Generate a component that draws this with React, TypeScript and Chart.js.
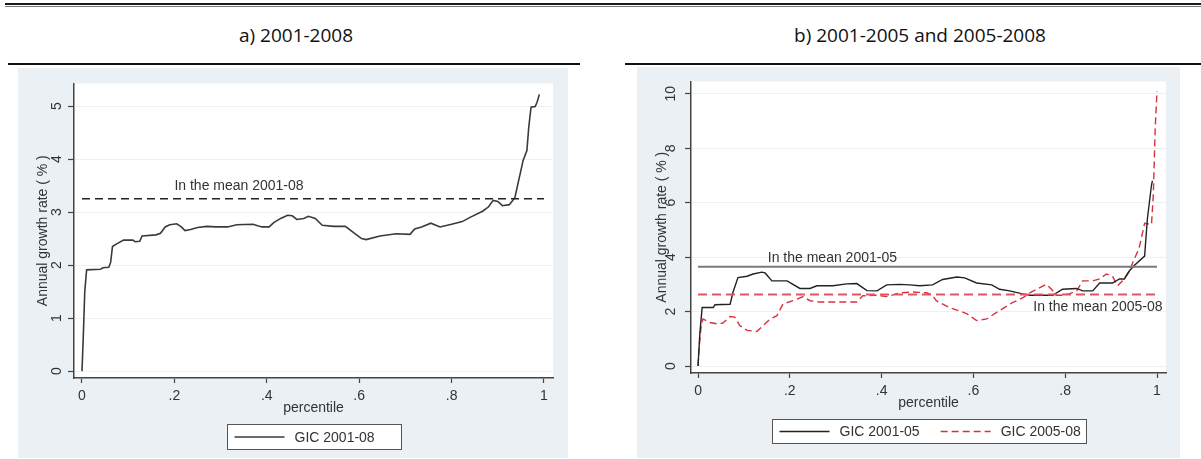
import React, { useEffect, useRef } from 'react';
import { Chart, registerables } from 'chart.js';

Chart.register(...registerables);

// ---------- texts ----------
const panelATitle = 'a) 2001-2008';
const panelBTitle = 'b) 2001-2005 and 2005-2008';
const yAxisTitle = 'Annual growth rate ( % )';
const xAxisTitle = 'percentile';

// ---------- ticks ----------
const xTickValues = [0, 0.2, 0.4, 0.6, 0.8, 1];
const xTickLabels = ['0', '.2', '.4', '.6', '.8', '1'];
const yTicksA = [0, 1, 2, 3, 4, 5];
const yTicksB = [0, 2, 4, 6, 8, 10];

// ---------- panel a) GIC 2001-08 ----------
const gic0108Label = 'GIC 2001-08';
const gic0108X = [0, 0.003, 0.006, 0.01, 0.04, 0.045, 0.058, 0.062, 0.066, 0.075, 0.09, 0.11, 0.115, 0.125, 0.13, 0.16, 0.17, 0.18, 0.19, 0.205, 0.215, 0.223, 0.235, 0.25, 0.27, 0.29, 0.315, 0.335, 0.37, 0.38, 0.39, 0.405, 0.415, 0.43, 0.445, 0.455, 0.465, 0.48, 0.49, 0.505, 0.52, 0.545, 0.57, 0.59, 0.605, 0.615, 0.645, 0.68, 0.71, 0.72, 0.735, 0.755, 0.775, 0.8, 0.823, 0.84, 0.868, 0.88, 0.89, 0.9, 0.91, 0.925, 0.937, 0.944, 0.955, 0.963, 0.967, 0.972, 0.981, 0.985, 0.99];
const gic0108Y = [0, 0.7, 1.5, 1.91, 1.92, 1.95, 1.96, 2.05, 2.35, 2.4, 2.47, 2.47, 2.44, 2.45, 2.55, 2.57, 2.6, 2.72, 2.76, 2.78, 2.72, 2.65, 2.67, 2.71, 2.73, 2.72, 2.72, 2.76, 2.77, 2.74, 2.72, 2.72, 2.8, 2.88, 2.94, 2.93, 2.86, 2.88, 2.92, 2.88, 2.75, 2.73, 2.73, 2.6, 2.5, 2.48, 2.55, 2.59, 2.58, 2.68, 2.72, 2.79, 2.72, 2.77, 2.82, 2.9, 3.02, 3.1, 3.22, 3.2, 3.12, 3.14, 3.27, 3.55, 3.98, 4.16, 4.6, 4.98, 4.99, 5.07, 5.22];
const mean0108 = 3.25;
const mean0108Label = 'In the mean 2001-08';

// ---------- panel b) GIC 2001-05 and 2005-08 ----------
const gic0105Label = 'GIC 2001-05';
const gic0105X = [0, 0.004, 0.009, 0.033, 0.037, 0.07, 0.076, 0.087, 0.107, 0.12, 0.139, 0.146, 0.161, 0.194, 0.222, 0.244, 0.259, 0.294, 0.324, 0.346, 0.368, 0.39, 0.411, 0.44, 0.461, 0.483, 0.511, 0.533, 0.564, 0.581, 0.607, 0.64, 0.657, 0.679, 0.707, 0.723, 0.773, 0.794, 0.825, 0.838, 0.86, 0.875, 0.903, 0.918, 0.929, 0.94, 0.951, 0.973, 0.979, 0.988, 0.99];
const gic0105Y = [0, 1.2, 2.15, 2.15, 2.25, 2.27, 2.7, 3.25, 3.3, 3.38, 3.45, 3.42, 3.13, 3.13, 2.85, 2.85, 2.95, 2.95, 3.02, 3.03, 2.77, 2.76, 2.98, 3.0, 2.98, 2.95, 2.98, 3.18, 3.27, 3.24, 3.05, 2.98, 2.82, 2.76, 2.65, 2.6, 2.6, 2.82, 2.85, 2.76, 2.76, 3.05, 3.05, 3.2, 3.2, 3.5, 3.7, 4.04, 5.4, 6.65, 6.8];
const gic0508Label = 'GIC 2005-08';
const gic0508X = [0, 0.003, 0.007, 0.011, 0.026, 0.041, 0.054, 0.07, 0.08, 0.091, 0.107, 0.128, 0.142, 0.157, 0.172, 0.185, 0.207, 0.229, 0.244, 0.266, 0.294, 0.346, 0.359, 0.39, 0.411, 0.44, 0.468, 0.498, 0.511, 0.519, 0.548, 0.585, 0.607, 0.629, 0.657, 0.685, 0.707, 0.723, 0.738, 0.759, 0.77, 0.781, 0.794, 0.809, 0.825, 0.838, 0.86, 0.875, 0.89, 0.903, 0.914, 0.925, 0.94, 0.946, 0.961, 0.973, 0.988, 0.992, 0.996, 1.0];
const gic0508Y = [0, 0.8, 1.5, 1.73, 1.6, 1.55, 1.58, 1.82, 1.8, 1.49, 1.31, 1.27, 1.49, 1.73, 1.85, 2.28, 2.4, 2.55, 2.4, 2.35, 2.35, 2.35, 2.58, 2.6, 2.55, 2.69, 2.72, 2.69, 2.6, 2.4, 2.15, 1.93, 1.67, 1.73, 2.04, 2.33, 2.5, 2.69, 2.82, 3.0, 2.82, 2.6, 2.6, 2.65, 2.76, 3.13, 3.13, 3.2, 3.38, 3.3, 2.95, 3.13, 3.5, 3.75, 4.33, 5.24, 5.2, 6.3, 8.7, 10.1];
const mean0105 = 3.65;
const mean0105Label = 'In the mean 2001-05';
const mean0508 = 2.63;
const mean0508Label = 'In the mean 2005-08';

const meanSpan = [0, 1];

// ---------- styles ----------
const FONT_FAMILY = "'Liberation Sans', Arial, sans-serif";
const chartFont = { family: FONT_FAMILY, size: 14 };
const TEXT = '#333333';
const AXIS = '#444444';
const PANEL_BG = '#eaf0f3';
const GRID = '#edf1f3';
const RED = '#d8303f';
const RED_MEAN = '#e4545f';

const toPoints = (xs: number[], ys: number[]) => xs.map((x, i) => ({ x, y: ys[i] }));
const flat = (v: number) => meanSpan.map((x) => ({ x, y: v }));

function bgPlugin() {
  return {
    id: 'panelBg',
    beforeDraw(chart: any) {
      const { ctx, chartArea, width, height } = chart;
      ctx.save();
      ctx.fillStyle = PANEL_BG;
      ctx.fillRect(0, 0, width, height);
      ctx.fillStyle = '#ffffff';
      ctx.fillRect(chartArea.left, chartArea.top, chartArea.right - chartArea.left, chartArea.bottom - chartArea.top);
      ctx.restore();
    },
  };
}

type MeanText = { text: string; x: number; y: number; dy: number; align: CanvasTextAlign };
function meanLabelPlugin(labels: MeanText[]) {
  return {
    id: 'meanLabels',
    afterDatasetsDraw(chart: any) {
      const { ctx, scales } = chart;
      ctx.save();
      ctx.font = `14px ${FONT_FAMILY}`;
      ctx.fillStyle = TEXT;
      ctx.textBaseline = 'middle';
      labels.forEach((l) => {
        ctx.textAlign = l.align;
        ctx.fillText(l.text, scales.x.getPixelForValue(l.x), scales.y.getPixelForValue(l.y) + l.dy);
      });
      ctx.restore();
    },
  };
}

function boxLegendPlugin(boxWidth: number, boxHeight: number, top: number) {
  return {
    id: 'boxLegend',
    afterDraw(chart: any) {
      const { ctx, chartArea } = chart;
      const items = chart.data.datasets.filter((d: any) => d.inLegend);
      ctx.save();
      ctx.font = `14px ${FONT_FAMILY}`;
      const cx = (chartArea.left + chartArea.right) / 2;
      const x0 = Math.round(cx - boxWidth / 2) + 0.5;
      const y0 = top + 0.5;
      ctx.fillStyle = '#ffffff';
      ctx.fillRect(x0, y0, boxWidth, boxHeight);
      ctx.strokeStyle = '#555555';
      ctx.lineWidth = 1;
      ctx.strokeRect(x0, y0, boxWidth, boxHeight);
      let x = x0 + 7;
      const cy = y0 + boxHeight / 2;
      items.forEach((d: any) => {
        ctx.beginPath();
        ctx.setLineDash(d.borderDash || []);
        ctx.strokeStyle = d.borderColor;
        ctx.lineWidth = d.borderWidth;
        ctx.moveTo(x, cy);
        ctx.lineTo(x + 50, cy);
        ctx.stroke();
        ctx.setLineDash([]);
        x += 60;
        ctx.fillStyle = TEXT;
        ctx.textAlign = 'left';
        ctx.textBaseline = 'middle';
        ctx.fillText(d.label, x, cy + 1);
        x += ctx.measureText(d.label).width + 21;
      });
      ctx.restore();
    },
  };
}

function makeScales(o: { xMin: number; xMax: number; yMin: number; yMax: number; yTicks: number[]; yWidth: number; yPad: number }) {
  return {
    x: {
      type: 'linear',
      min: o.xMin,
      max: o.xMax,
      afterBuildTicks: (s: any) => {
        s.ticks = xTickValues.map((v) => ({ value: v }));
      },
      afterFit: (s: any) => {
        s.height = 40;
      },
      ticks: {
        autoSkip: false,
        maxRotation: 0,
        minRotation: 0,
        padding: 5,
        color: TEXT,
        font: chartFont,
        callback: (v: number) => {
          const i = xTickValues.indexOf(v);
          return i >= 0 ? xTickLabels[i] : '';
        },
      },
      grid: { drawOnChartArea: false, drawTicks: true, tickLength: 5, tickColor: AXIS, tickWidth: 1.2 },
      border: { display: true, color: AXIS, width: 1.5 },
      title: { display: true, text: xAxisTitle, color: TEXT, font: chartFont, padding: { top: 0, bottom: 1.6 } },
    },
    y: {
      type: 'linear',
      min: o.yMin,
      max: o.yMax,
      afterBuildTicks: (s: any) => {
        s.ticks = o.yTicks.map((v) => ({ value: v }));
      },
      afterFit: (s: any) => {
        s.width = o.yWidth;
      },
      ticks: {
        minRotation: 90,
        maxRotation: 90,
        crossAlign: 'center',
        padding: o.yPad,
        color: TEXT,
        font: chartFont,
        callback: (v: number) => String(v),
      },
      grid: { color: GRID, lineWidth: 1, drawTicks: true, tickLength: 6, tickColor: AXIS, tickWidth: 1.2 },
      border: { display: true, color: AXIS, width: 1.5 },
      title: { display: true, text: yAxisTitle, color: TEXT, font: chartFont, padding: { top: 17, bottom: 0 } },
    },
  };
}

function configA(): any {
  return {
    type: 'line',
    data: {
      datasets: [
        {
          label: mean0108Label,
          data: flat(mean0108),
          borderColor: '#222222',
          borderWidth: 1.5,
          borderDash: [8, 5],
          pointRadius: 0,
          inLegend: false,
        },
        {
          label: gic0108Label,
          data: toPoints(gic0108X, gic0108Y),
          borderColor: '#3a3a3a',
          borderWidth: 1.6,
          pointRadius: 0,
          inLegend: true,
        },
      ],
    },
    options: {
      animation: false,
      responsive: false,
      events: [],
      layout: { autoPadding: false, padding: { top: 11, right: 15, bottom: 40, left: 0 } },
      plugins: { legend: { display: false }, tooltip: { enabled: false } },
      scales: makeScales({ xMin: -0.0173, xMax: 1.0195, yMin: -0.13, yMax: 5.427, yTicks: yTicksA, yWidth: 56, yPad: 7 }),
    },
    plugins: [
      bgPlugin(),
      meanLabelPlugin([{ text: mean0108Label, x: 0.2, y: mean0108, dy: -13, align: 'left' }]),
      boxLegendPlugin(174, 25, 356),
    ],
  };
}

function configB(): any {
  return {
    type: 'line',
    data: {
      datasets: [
        {
          label: mean0105Label,
          data: flat(mean0105),
          borderColor: '#7a7a7a',
          borderWidth: 2,
          pointRadius: 0,
          inLegend: false,
        },
        {
          label: mean0508Label,
          data: flat(mean0508),
          borderColor: RED_MEAN,
          borderWidth: 2,
          borderDash: [9, 5],
          pointRadius: 0,
          inLegend: false,
        },
        {
          label: gic0105Label,
          data: toPoints(gic0105X, gic0105Y),
          borderColor: '#222222',
          borderWidth: 1.4,
          pointRadius: 0,
          inLegend: true,
        },
        {
          label: gic0508Label,
          data: toPoints(gic0508X, gic0508Y),
          borderColor: RED,
          borderWidth: 1.4,
          borderDash: [7, 4],
          pointRadius: 0,
          inLegend: true,
        },
      ],
    },
    options: {
      animation: false,
      responsive: false,
      events: [],
      layout: { autoPadding: false, padding: { top: 12, right: 14, bottom: 45, left: 0 } },
      plugins: { legend: { display: false }, tooltip: { enabled: false } },
      scales: makeScales({ xMin: -0.0153, xMax: 1.0196, yMin: -0.255, yMax: 10.455, yTicks: yTicksB, yWidth: 54, yPad: 6 }),
    },
    plugins: [
      bgPlugin(),
      meanLabelPlugin([
        { text: mean0105Label, x: 0.152, y: mean0105, dy: -9, align: 'left' },
        { text: mean0508Label, x: 1.012, y: mean0508, dy: 13, align: 'right' },
      ]),
      boxLegendPlugin(314, 24, 352),
    ],
  };
}

function ChartPanel(props: { left: number; top: number; width: number; height: number; make: () => any }) {
  const ref = useRef<HTMLCanvasElement | null>(null);
  useEffect(() => {
    if (!ref.current) return;
    const chart = new Chart(ref.current, props.make());
    return () => chart.destroy();
  }, []);
  return (
    <div
      style={{
        position: 'absolute',
        left: props.left,
        top: props.top,
        width: props.width,
        height: props.height,
        background: PANEL_BG,
      }}
    >
      <canvas ref={ref} width={props.width} height={props.height} style={{ display: 'block', width: props.width, height: props.height }} />
    </div>
  );
}

const titleStyle: React.CSSProperties = {
  position: 'absolute',
  top: 22,
  height: 26,
  lineHeight: '26px',
  fontFamily: "'Open Sans', 'Noto Sans', sans-serif",
  fontSize: 19,
  color: '#111',
  textAlign: 'center',
  whiteSpace: 'nowrap',
};

export default function App() {
  return (
    <div style={{ position: 'absolute', left: 0, top: 0, width: 1201, height: 459, background: '#fff', overflow: 'hidden' }}>
      <div style={{ position: 'absolute', left: 5, top: 3, width: 1196, height: 2, background: '#1a1a1a' }} />
      <div style={{ position: 'absolute', left: 5, top: 6, width: 1196, height: 1, background: '#777' }} />
      <div style={{ ...titleStyle, left: 8, width: 576 }}>{panelATitle}</div>
      <div style={{ ...titleStyle, left: 632, width: 576 }}>{panelBTitle}</div>
      <div style={{ position: 'absolute', left: 8, top: 63, width: 572, height: 2, background: '#111' }} />
      <div style={{ position: 'absolute', left: 625, top: 63, width: 576, height: 2, background: '#111' }} />
      <ChartPanel left={18} top={68} width={550} height={390} make={configA} />
      <ChartPanel left={637} top={67} width={543} height={391} make={configB} />
    </div>
  );
}
